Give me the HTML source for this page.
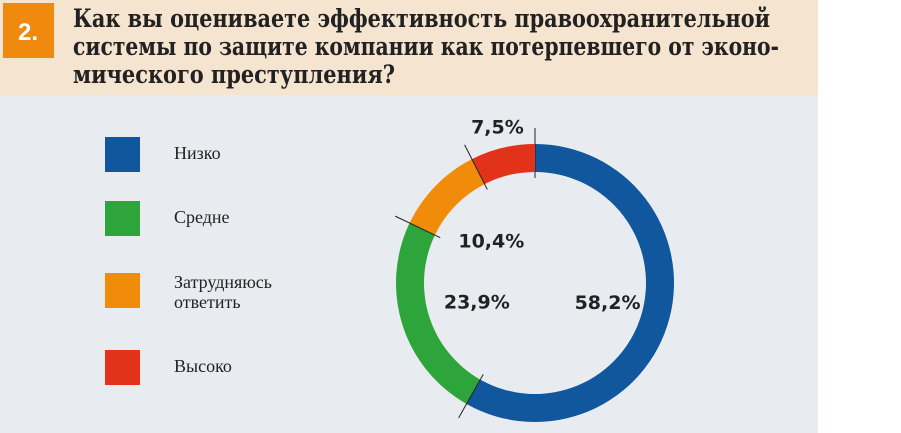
<!DOCTYPE html>
<html><head><meta charset="utf-8"><style>
body{margin:0;width:901px;height:433px;overflow:hidden;background:#fff}
svg{display:block}
</style></head><body>
<svg width="901" height="433">
<rect x="0" y="0" width="818" height="433" fill="#e8ecf0"/>
<rect x="0" y="0" width="818" height="95" fill="#f5e4cf"/>
<rect x="3" y="3" width="51" height="55" fill="#ef8a0e"/>
<text x="28" y="40" text-anchor="middle" font-family="Liberation Sans, sans-serif" font-weight="bold" font-size="24" fill="#fff">2.</text>
<g font-family="'DejaVu Serif', 'Liberation Serif', serif" font-weight="bold" font-size="25" fill="#222">
<text x="73" y="27" textLength="697" lengthAdjust="spacingAndGlyphs">Как вы оцениваете эффективность правоохранительной</text>
<text x="73" y="55" textLength="706" lengthAdjust="spacingAndGlyphs">системы по защите компании как потерпевшего от эконо-</text>
<text x="73" y="83" textLength="322" lengthAdjust="spacingAndGlyphs">мического преступления?</text>
</g>
<g id="legend" font-family="Liberation Serif, serif" font-size="18" fill="#222"></g>
<g id="donut"></g>
<g id="labels" font-family="'DejaVu Sans', 'Liberation Sans', sans-serif" font-weight="bold" font-size="19" fill="#222" text-anchor="middle"></g>
</svg>
<script>
const categories=["Низко","Средне","Затрудняюсь ответить","Высоко"];
const values=[58.2,23.9,10.4,7.5];
const valueLabels=["58,2%","23,9%","10,4%","7,5%"];
const colors=["#11579e","#2ea53a","#f08c0a","#e3321a"];
const NS="http://www.w3.org/2000/svg";
const cx=535,cy=283,ro=139,ri=111;
function mk(t,a,p){const e=document.createElementNS(NS,t);for(const k in a)e.setAttribute(k,a[k]);p.appendChild(e);return e;}
function pt(ang,r){return [cx+r*Math.sin(ang),cy-r*Math.cos(ang)];}
const total=values.reduce((a,b)=>a+b,0);
const donut=document.getElementById('donut'),labels=document.getElementById('labels'),legend=document.getElementById('legend');
let a0=0;
values.forEach((v,i)=>{
  const a1=a0+v/total*2*Math.PI;
  const large=(a1-a0)>Math.PI?1:0;
  const [x1,y1]=pt(a0,ro),[x2,y2]=pt(a1,ro),[x3,y3]=pt(a1,ri),[x4,y4]=pt(a0,ri);
  const p=mk('path',{d:`M${x1},${y1}A${ro},${ro} 0 ${large} 1 ${x2},${y2}L${x3},${y3}A${ri},${ri} 0 ${large} 0 ${x4},${y4}Z`,fill:colors[i]},donut);
  
  
  const [lx1,ly1]=pt(a0,ro+16),[lx2,ly2]=pt(a0,ri-6);
  const ln=mk('line',{x1:lx1,y1:ly1,x2:lx2,y2:ly2,stroke:'#222','stroke-width':1},donut);
  
  
  const mid=(a0+a1)/2;
  let lr = i===3 ? ro+22 : (i===0 ? ri-36 : ri-50);
  const [tx,ty]=pt(mid,lr);
  const t=mk('text',{x:tx,y:ty+7},labels);
  t.textContent=valueLabels[i];
  
  
  a0=a1;
});
const legY=[137,201,273,350];
categories.forEach((c,i)=>{
  const r=mk('rect',{x:105,y:legY[i],width:35,height:35,fill:colors[i]},legend);
  
  
  const t=mk('text',{x:174,y:legY[i]+22},legend);
  
  
  if(c.indexOf(' ')>0 && i===2){
    const w=c.split(' ');
    t.setAttribute('y',legY[i]+15);
    t.textContent=w[0];
    const t2=mk('text',{x:174,y:legY[i]+35},legend);
    t2.textContent=w[1];
    
    
  } else t.textContent=c;
});
</script>
</body></html>
